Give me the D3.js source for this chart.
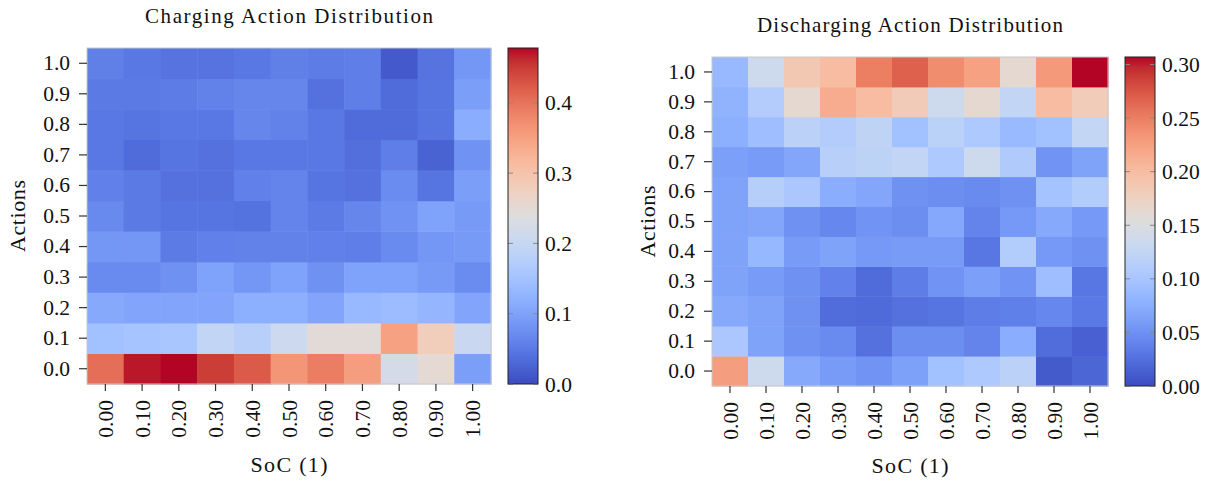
<!DOCTYPE html>
<html>
<head>
<meta charset="utf-8">
<script src="https://cdn.jsdelivr.net/npm/d3@7"></script>
<style>
  html, body { margin: 0; padding: 0; background: #fff; }
  svg { display: block; }
  text { font-family: "Liberation Serif", "DejaVu Serif", serif; fill: #111; }
</style>
</head>
<body>
<svg id="chart" width="1211" height="484"></svg>
<script>
// SoC bins (columns) and action bins (rows, listed bottom to top)
const socLabels = ["0.00","0.10","0.20","0.30","0.40","0.50","0.60","0.70","0.80","0.90","1.00"];
const actionLabels = ["0.0","0.1","0.2","0.3","0.4","0.5","0.6","0.7","0.8","0.9","1.0"];

// Charging: each inner array is one action row (0.0 .. 1.0), values per SoC bin
const chargingValues = [
  [0.405,0.470,0.478,0.448,0.423,0.363,0.390,0.355,0.222,0.252,0.095],
  [0.148,0.153,0.158,0.195,0.178,0.210,0.248,0.248,0.350,0.280,0.205],
  [0.110,0.105,0.105,0.105,0.120,0.120,0.105,0.135,0.140,0.130,0.105],
  [0.070,0.070,0.078,0.100,0.085,0.100,0.078,0.100,0.100,0.090,0.072],
  [0.085,0.085,0.052,0.058,0.060,0.060,0.058,0.055,0.070,0.085,0.090],
  [0.068,0.050,0.045,0.045,0.042,0.062,0.052,0.065,0.080,0.100,0.090],
  [0.058,0.050,0.040,0.040,0.058,0.062,0.045,0.040,0.072,0.045,0.095],
  [0.048,0.035,0.045,0.040,0.048,0.048,0.048,0.038,0.055,0.025,0.080],
  [0.048,0.045,0.048,0.048,0.065,0.060,0.048,0.035,0.035,0.045,0.115],
  [0.050,0.050,0.053,0.060,0.065,0.065,0.040,0.055,0.035,0.045,0.095],
  [0.057,0.048,0.043,0.043,0.048,0.057,0.053,0.055,0.015,0.043,0.085]
];

// Discharging: same layout
const dischargingValues = [
  [0.227,0.135,0.071,0.058,0.052,0.063,0.095,0.106,0.118,0.010,0.018],
  [0.103,0.065,0.050,0.045,0.026,0.048,0.048,0.040,0.074,0.023,0.014],
  [0.071,0.065,0.050,0.023,0.021,0.026,0.029,0.035,0.037,0.042,0.032],
  [0.065,0.058,0.050,0.038,0.022,0.035,0.052,0.062,0.052,0.092,0.030],
  [0.065,0.085,0.058,0.065,0.057,0.058,0.058,0.030,0.109,0.057,0.050],
  [0.065,0.068,0.050,0.042,0.052,0.048,0.070,0.040,0.057,0.071,0.057],
  [0.065,0.112,0.103,0.074,0.068,0.050,0.048,0.045,0.050,0.098,0.109],
  [0.062,0.058,0.068,0.115,0.120,0.125,0.106,0.135,0.107,0.052,0.065],
  [0.077,0.092,0.118,0.110,0.122,0.095,0.117,0.106,0.087,0.095,0.126],
  [0.080,0.110,0.163,0.215,0.200,0.183,0.135,0.163,0.125,0.200,0.182],
  [0.086,0.135,0.187,0.200,0.250,0.268,0.240,0.225,0.163,0.230,0.307]
];

const chargingTicks = [0.0, 0.1, 0.2, 0.3, 0.4];
const dischargingTicks = [0.00, 0.05, 0.10, 0.15, 0.20, 0.25, 0.30];

// Diverging blue-white-red ramp (coolwarm)
const coolwarm = [
  "#3b4cc0","#445acc","#4d68d7","#5775e1","#6282ea","#6c8ef1","#779af7","#82a5fb",
  "#8db0fe","#98b9ff","#a3c2ff","#aec9fd","#b8d0f9","#c2d5f4","#ccd9ee","#d5dbe6",
  "#dddddd","#e5d8d1","#ecd3c5","#f1ccb8","#f5c4ac","#f7bba0","#f7b194","#f7a687",
  "#f49a7b","#f18d6f","#ec7f63","#e57058","#de604d","#d55042","#cb3e38","#c0282f","#b40426"
];
const ramp = d3.piecewise(d3.interpolateRgb, coolwarm);

const svg = d3.select("#chart");
const FS = "21.5px";

function label(g, x, y, txt, len, size, rotate) {
  const t = g.append("text")
    .attr("text-anchor", "middle")
    .style("font-size", size)
    .attr("textLength", len)
    .attr("lengthAdjust", "spacing")
    .text(txt);
  if (rotate) t.attr("transform", `translate(${x},${y}) rotate(-90)`);
  else t.attr("x", x).attr("y", y);
  return t;
}

function drawHeatmap(cfg) {
  const { values, vmax, ticks, tickFmt, title, titleLen, x0, y0, w, h, cbX, cbW, titleY, ylabX, xlabY, id } = cfg;
  const color = d3.scaleSequential(ramp).domain([0, vmax]);

  const x = d3.scaleBand().domain(socLabels).range([x0, x0 + w]);
  const y = d3.scaleBand().domain(actionLabels).range([y0 + h, y0]);

  const g = svg.append("g");

  const cells = [];
  values.forEach((row, ri) => row.forEach((v, ci) => cells.push({ a: actionLabels[ri], s: socLabels[ci], v })));

  g.selectAll("rect.cell").data(cells).join("rect")
    .attr("class", "cell")
    .attr("x", d => x(d.s))
    .attr("y", d => y(d.a))
    .attr("width", x.bandwidth() + 0.5)
    .attr("height", y.bandwidth() + 0.5)
    .attr("fill", d => color(d.v));

  g.append("rect")
    .attr("x", x0).attr("y", y0).attr("width", w).attr("height", h)
    .attr("fill", "none").attr("stroke", "#c8c8c8").attr("stroke-width", 1);

  // axes
  const xAxis = g.append("g").attr("transform", `translate(0,${y0 + h})`)
    .call(d3.axisBottom(x).tickSize(7).tickPadding(4));
  xAxis.select(".domain").remove();
  xAxis.selectAll(".tick line").attr("stroke", "#333").attr("stroke-width", 1.2);
  xAxis.selectAll(".tick text")
    .attr("transform", "rotate(-90)")
    .attr("text-anchor", "end")
    .attr("dy", "0.35em")
    .attr("x", -16).attr("y", 0)
    .style("font-size", FS)
    .style("font-family", '"Liberation Serif", serif')
    .attr("fill", "#111");

  const yAxis = g.append("g").attr("transform", `translate(${x0},0)`)
    .call(d3.axisLeft(y).tickSize(8).tickPadding(9));
  yAxis.select(".domain").remove();
  yAxis.selectAll(".tick line").attr("stroke", "#333").attr("stroke-width", 1.2);
  yAxis.selectAll(".tick text")
    .style("font-size", FS)
    .style("font-family", '"Liberation Serif", serif')
    .attr("fill", "#111");

  // titles
  label(g, x0 + w / 2, titleY, title, titleLen, "21px", false);
  label(g, x0 + w / 2, xlabY, "SoC (1)", 77, "22px", false);
  label(g, ylabX, y0 + h / 2, "Actions", 72, "22px", true);

  // colorbar
  const grad = svg.append("defs").append("linearGradient")
    .attr("id", id).attr("x1", 0).attr("y1", 1).attr("x2", 0).attr("y2", 0);
  d3.range(0, 1.0001, 1 / 32).forEach(t => {
    grad.append("stop").attr("offset", t).attr("stop-color", ramp(t));
  });
  const cb = d3.scaleLinear().domain([0, vmax]).range([y0 + h, y0]);
  g.append("rect").attr("x", cbX).attr("y", y0).attr("width", cbW).attr("height", h)
    .attr("fill", `url(#${id})`);
  g.selectAll("line.cbl").data(ticks).join("line")
    .attr("class", "cbl")
    .attr("x1", cbX).attr("x2", cbX + 5)
    .attr("y1", d => cb(d)).attr("y2", d => cb(d))
    .attr("stroke", "#888").attr("stroke-width", 1);
  g.selectAll("line.cbr").data(ticks).join("line")
    .attr("class", "cbr")
    .attr("x1", cbX + cbW - 5).attr("x2", cbX + cbW)
    .attr("y1", d => cb(d)).attr("y2", d => cb(d))
    .attr("stroke", "#888").attr("stroke-width", 1);
  g.append("rect").attr("x", cbX).attr("y", y0).attr("width", cbW).attr("height", h)
    .attr("fill", "none").attr("stroke", "#222").attr("stroke-width", 1);
  g.selectAll("text.cbt").data(ticks).join("text")
    .attr("class", "cbt")
    .attr("x", cbX + cbW + 7).attr("y", d => cb(d)).attr("dy", "0.35em")
    .style("font-size", FS)
    .text(tickFmt);
}

drawHeatmap({
  id: "gradCharging",
  values: chargingValues, vmax: 0.478, ticks: chargingTicks, tickFmt: d3.format(".1f"),
  title: "Charging Action Distribution", titleLen: 288,
  x0: 87, y0: 48, w: 404, h: 336, cbX: 508, cbW: 30,
  titleY: 23, ylabX: 25, xlabY: 472
});

drawHeatmap({
  id: "gradDischarging",
  values: dischargingValues, vmax: 0.307, ticks: dischargingTicks, tickFmt: d3.format(".2f"),
  title: "Discharging Action Distribution", titleLen: 306,
  x0: 712, y0: 57, w: 396, h: 329, cbX: 1125, cbW: 30,
  titleY: 32, ylabX: 655, xlabY: 473
});
</script>
</body>
</html>
